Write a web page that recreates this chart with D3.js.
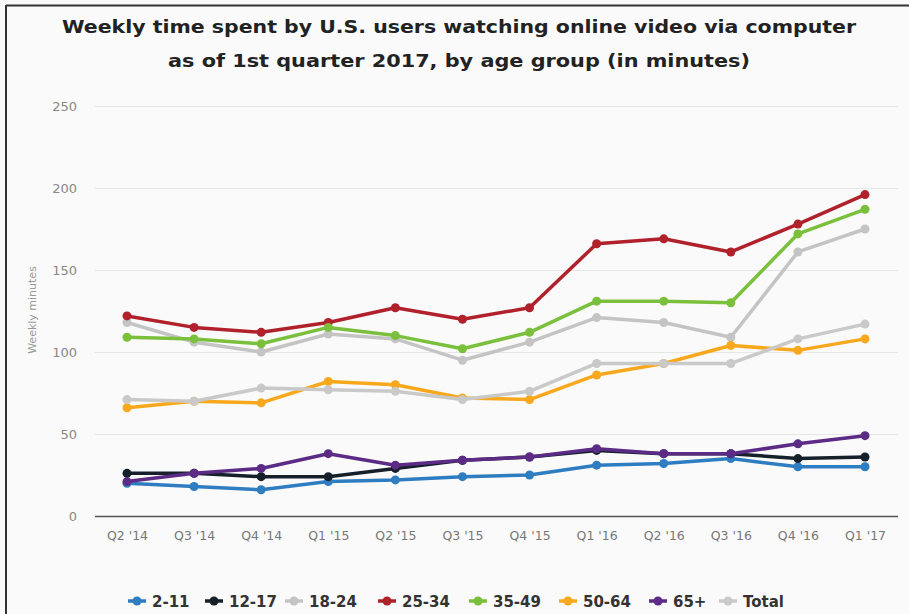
<!DOCTYPE html>
<html>
<head>
<meta charset="utf-8">
<script src="https://cdn.jsdelivr.net/npm/d3@7"></script>
<style>
  body { margin: 0; background: #fff; }
  svg { display: block; }
</style>
</head>
<body>
<div class="chart"></div>
<script>

// DATA ------------------------------

const quarters = ["Q2 '14", "Q3 '14", "Q4 '14", "Q1 '15", "Q2 '15", "Q3 '15",
                  "Q4 '15", "Q1 '16", "Q2 '16", "Q3 '16", "Q4 '16", "Q1 '17"];

const age2_11  = [20, 18, 16, 21, 22, 24, 25, 31, 32, 35, 30, 30];
const age12_17 = [26, 26, 24, 24, 29, 34, 36, 40, 38, 38, 35, 36];
const age18_24 = [118, 106, 100, 111, 108, 95, 106, 121, 118, 109, 161, 175];
const age25_34 = [122, 115, 112, 118, 127, 120, 127, 166, 169, 161, 178, 196];
const age35_49 = [109, 108, 105, 115, 110, 102, 112, 131, 131, 130, 172, 187];
const age50_64 = [66, 70, 69, 82, 80, 72, 71, 86, 93, 104, 101, 108];
const age65    = [21, 26, 29, 38, 31, 34, 36, 41, 38, 38, 44, 49];
const total    = [71, 70, 78, 77, 76, 71, 76, 93, 93, 93, 108, 117];

const yTicks = [0, 50, 100, 150, 200, 250];

const series = [
  {name: "2-11",  values: age2_11,  color: "#2f7dc1"},
  {name: "12-17", values: age12_17, color: "#15202b"},
  {name: "18-24", values: age18_24, color: "#c4c4c4"},
  {name: "25-34", values: age25_34, color: "#b0212b"},
  {name: "35-49", values: age35_49, color: "#7ac03c"},
  {name: "50-64", values: age50_64, color: "#f8a81c"},
  {name: "65+",   values: age65,    color: "#5b2b86"},
  {name: "Total", values: total,    color: "#c9c9c9"}
];

// CHART INIT ------------------------------

const W = 909, H = 614;

const svg = d3.select(".chart").append("svg")
  .attr("width", W)
  .attr("height", H);

svg.append("rect")
  .attr("width", W).attr("height", H)
  .attr("fill", "#fafafa");

// frame lines (top and left)
svg.append("line")
  .attr("x1", 6).attr("x2", W).attr("y1", 5.5).attr("y2", 5.5)
  .attr("stroke", "#333").attr("stroke-width", 2);
svg.append("line")
  .attr("x1", 6).attr("x2", 6).attr("y1", 5).attr("y2", H)
  .attr("stroke", "#333").attr("stroke-width", 2);

// title
svg.append("text")
  .attr("x", 459).attr("y", 33)
  .attr("text-anchor", "middle")
  .attr("font-family", "DejaVu Sans")
  .attr("font-weight", "bold")
  .attr("font-size", 18)
  .attr("fill", "#222")
  .attr("textLength", 794)
  .attr("lengthAdjust", "spacingAndGlyphs")
  .text("Weekly time spent by U.S. users watching online video via computer");

svg.append("text")
  .attr("x", 459).attr("y", 67)
  .attr("text-anchor", "middle")
  .attr("font-family", "DejaVu Sans")
  .attr("font-weight", "bold")
  .attr("font-size", 18)
  .attr("fill", "#222")
  .attr("textLength", 582)
  .attr("lengthAdjust", "spacingAndGlyphs")
  .text("as of 1st quarter 2017, by age group (in minutes)");

// scales
const xScale = d3.scalePoint()
  .domain(quarters)
  .range([127, 865]);

const yScale = d3.scaleLinear()
  .domain([0, 250])
  .range([516, 106]);

// grid lines
svg.append("g")
  .selectAll("line")
  .data(yTicks.filter(d => d > 0))
  .join("line")
  .attr("x1", 95).attr("x2", 898)
  .attr("y1", d => yScale(d) + 0.5).attr("y2", d => yScale(d) + 0.5)
  .attr("stroke", "#e6e6e6");

// y axis labels
const yAxis = d3.axisLeft(yScale)
  .tickValues(yTicks)
  .tickSize(0)
  .tickPadding(0);

svg.append("g")
  .attr("class", "y-axis")
  .attr("transform", "translate(77,0)")
  .call(yAxis)
  .call(g => g.select(".domain").remove())
  .selectAll("text")
  .attr("font-family", "DejaVu Sans")
  .attr("font-size", 13)
  .attr("fill", "#888");

svg.append("text")
  .attr("transform", "translate(36,310) rotate(-90)")
  .attr("text-anchor", "middle")
  .attr("font-family", "DejaVu Sans")
  .attr("font-size", 11)
  .attr("fill", "#999")
  .text("Weekly minutes");

// x axis
const xAxis = d3.axisBottom(xScale)
  .tickSize(0)
  .tickPadding(15);

svg.append("g")
  .attr("class", "x-axis")
  .attr("transform", "translate(0,516)")
  .call(xAxis)
  .call(g => g.select(".domain").remove())
  .selectAll("text")
  .attr("font-family", "DejaVu Sans")
  .attr("font-size", 12.5)
  .attr("fill", "#777");

svg.append("line")
  .attr("x1", 95).attr("x2", 898)
  .attr("y1", 516.5).attr("y2", 516.5)
  .attr("stroke", "#555").attr("stroke-width", 1.5);

// lines
const line = d3.line()
  .x((d, i) => xScale(quarters[i]))
  .y(d => yScale(d));

const groups = svg.append("g")
  .selectAll("g")
  .data(series)
  .join("g");

groups.append("path")
  .attr("d", d => line(d.values))
  .attr("fill", "none")
  .attr("stroke", d => d.color)
  .attr("stroke-width", 3.5)
  .attr("stroke-linejoin", "round");

groups.selectAll("circle")
  .data(d => d.values.map((v, i) => ({v, i, color: d.color})))
  .join("circle")
  .attr("cx", d => xScale(quarters[d.i]))
  .attr("cy", d => yScale(d.v))
  .attr("r", 4.5)
  .attr("fill", d => d.color);

// legend
const legendX = [128, 205, 285, 378, 469, 559, 649, 719];

const legend = svg.append("g")
  .selectAll("g")
  .data(series)
  .join("g")
  .attr("transform", (d, i) => `translate(${legendX[i]},601)`);

legend.append("line")
  .attr("x1", 0).attr("x2", 18)
  .attr("stroke", d => d.color)
  .attr("stroke-width", 3.5);

legend.append("circle")
  .attr("cx", 9).attr("r", 4.5)
  .attr("fill", d => d.color);

legend.append("text")
  .attr("x", 24).attr("y", 5.5)
  .attr("font-family", "DejaVu Sans")
  .attr("font-weight", "bold")
  .attr("font-size", 15)
  .attr("fill", "#333")
  .text(d => d.name);

</script>
</body>
</html>
